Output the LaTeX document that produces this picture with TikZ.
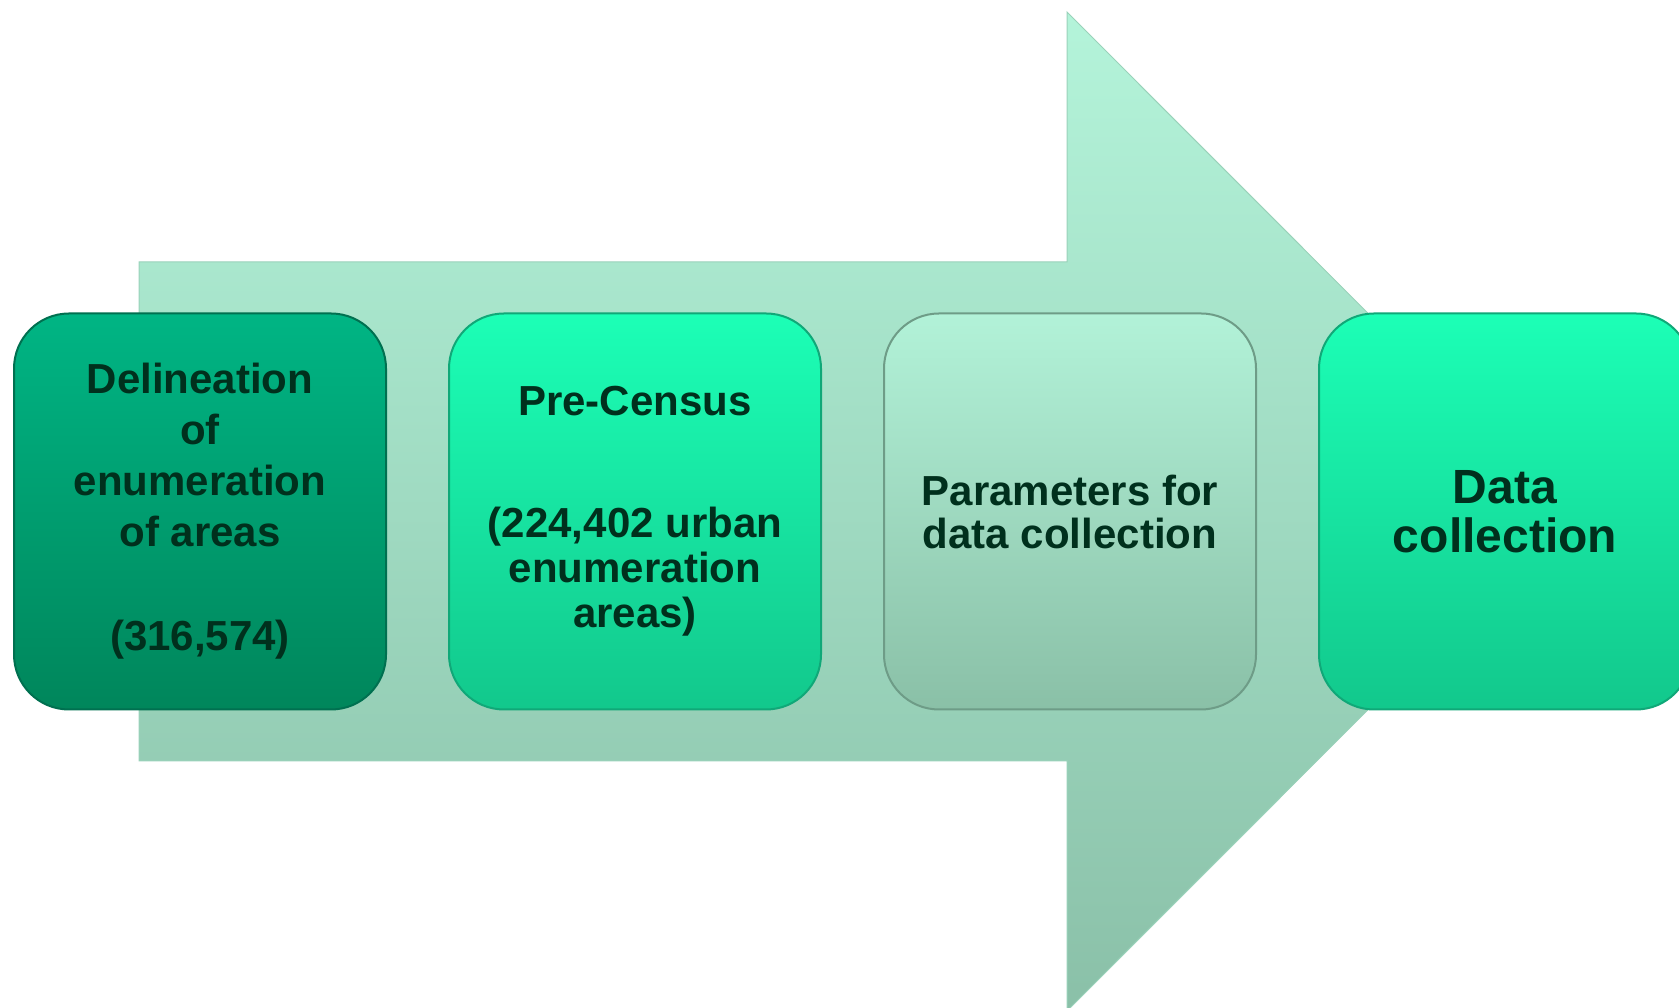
\documentclass[tikz,border=0pt]{standalone}
\usepackage{fontspec}
\setmainfont{Liberation Sans}
\usepackage{tikz}
\usetikzlibrary{positioning,calc}

\definecolor{arrowtop}{HTML}{B4F4DA}
\definecolor{arrowbot}{HTML}{8AC0A8}
\definecolor{arrowedge}{HTML}{9AD2BA}
\definecolor{darktop}{HTML}{00B584}
\definecolor{darkbot}{HTML}{00865B}
\definecolor{darkedge}{HTML}{007050}
\definecolor{brighttop}{HTML}{1CFFB6}
\definecolor{brightbot}{HTML}{12C88C}
\definecolor{brightedge}{HTML}{10A878}
\definecolor{paletop}{HTML}{B2F2D8}
\definecolor{palebot}{HTML}{8AC0A7}
\definecolor{paleedge}{HTML}{6E9C87}
\definecolor{steptext}{HTML}{00301D}

\tikzset{
    stepbox/.style={draw, line width=2pt, rounded corners=55pt, minimum width=372pt, minimum height=396pt, align=center, text=steptext, font=\bfseries\fontsize{42}{51}\selectfont},
    darkbox/.style={stepbox, draw=darkedge, top color=darktop, bottom color=darkbot},
    brightbox/.style={stepbox, draw=brightedge, top color=brighttop, bottom color=brightbot},
    palebox/.style={stepbox, draw=paleedge, top color=paletop, bottom color=palebot},
}

\begin{document}
\begin{tikzpicture}[x=1pt,y=1pt]

    \useasboundingbox (0,0) rectangle (1679,1008);

    % big arrow behind the steps
    \draw[draw=arrowedge, line width=1pt, top color=arrowtop, bottom color=arrowbot]
        (139,247) coordinate(A1) -- (1067,247) coordinate(A2) -- (1067,-3) coordinate(A3)
        -- (1566,496.5) coordinate(tip) -- (1067,996) coordinate(A4) -- (1067,746) coordinate(A5)
        -- (139,746) coordinate(A6) -- cycle;

    \node[darkbox, right] (delin) at (13,496.5) {Delineation\\of\\enumeration\\of areas\\[53pt](316,574)\hspace{8pt}};
    \node[brightbox, right=61pt of delin, font=\bfseries\fontsize{42}{45}\selectfont] (precensus) {Pre-Census\\[77pt](224,402 urban\\enumeration\\areas)};
    \node[palebox, right=61pt of precensus, font=\bfseries\fontsize{42}{43}\selectfont] (params) {Parameters for\\data collection};
    \node[brightbox, right=61pt of params, font=\bfseries\fontsize{48}{49}\selectfont] (collect) {Data\\collection};

\end{tikzpicture}
\end{document}
